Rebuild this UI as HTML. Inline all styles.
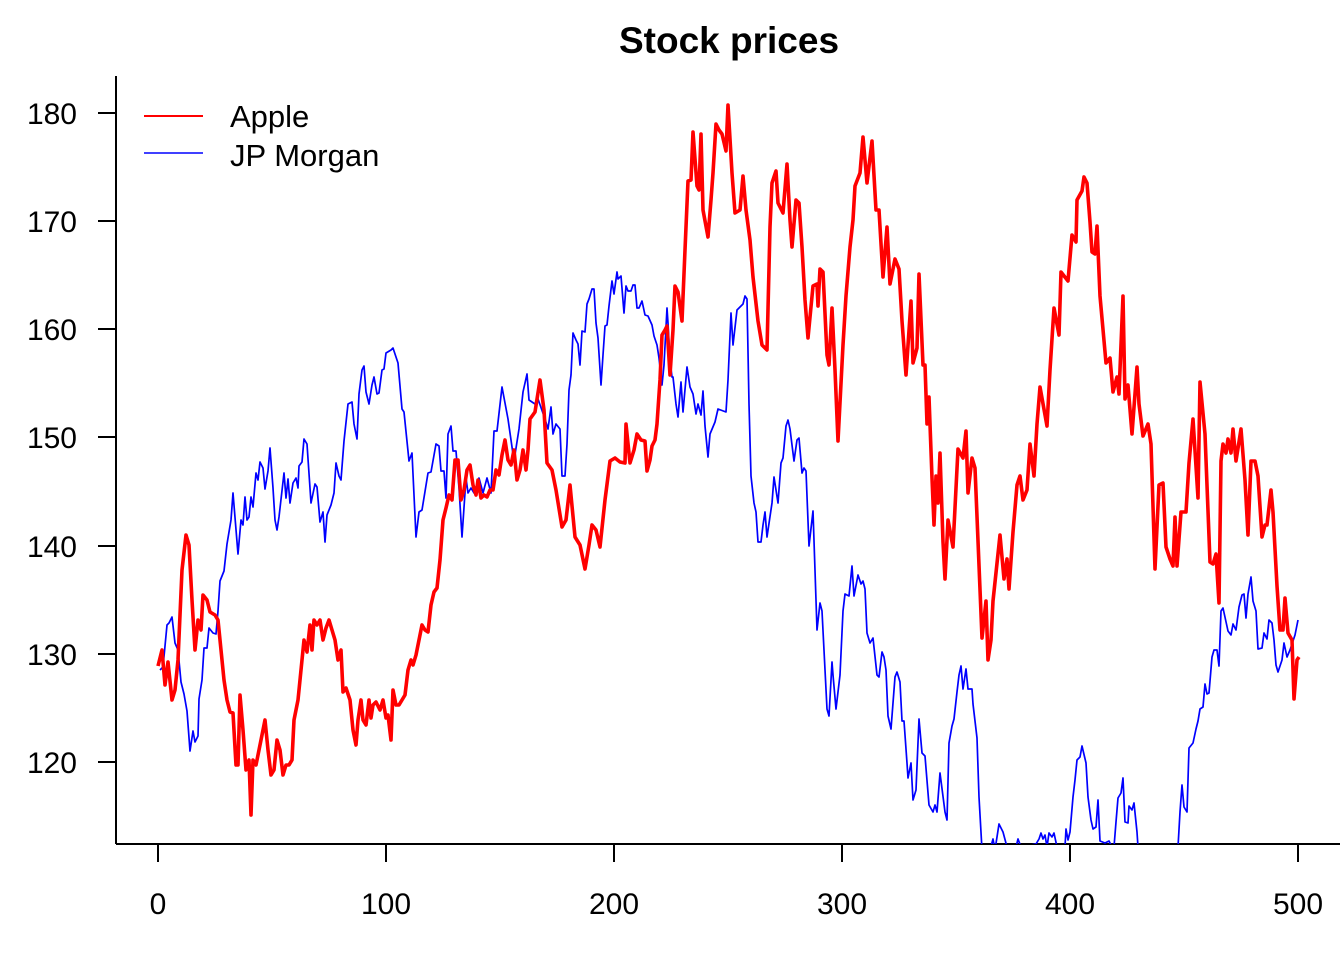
<!DOCTYPE html>
<html><head><meta charset="utf-8"><style>
html,body{margin:0;padding:0;background:#fff;}
svg{display:block;font-family:"Liberation Sans",Arial,sans-serif;}
</style></head><body>
<svg width="1344" height="960" viewBox="0 0 1344 960" xmlns="http://www.w3.org/2000/svg">
<defs><clipPath id="c"><rect x="116" y="76" width="1228" height="768"/></clipPath></defs>
<text x="729" y="53" text-anchor="middle" font-size="37" font-weight="bold">Stock prices</text>
<g stroke="#000" stroke-width="2" fill="none">
<line x1="116" y1="76" x2="116" y2="844"/>
<line x1="116" y1="844" x2="1340" y2="844"/>
<line x1="116" y1="113" x2="98" y2="113"/><line x1="116" y1="221" x2="98" y2="221"/><line x1="116" y1="329" x2="98" y2="329"/><line x1="116" y1="437" x2="98" y2="437"/><line x1="116" y1="546" x2="98" y2="546"/><line x1="116" y1="654" x2="98" y2="654"/><line x1="116" y1="762" x2="98" y2="762"/>
<line x1="158" y1="844" x2="158" y2="862"/><line x1="386" y1="844" x2="386" y2="862"/><line x1="614" y1="844" x2="614" y2="862"/><line x1="842" y1="844" x2="842" y2="862"/><line x1="1070" y1="844" x2="1070" y2="862"/><line x1="1298" y1="844" x2="1298" y2="862"/>
</g>
<g font-size="30" text-anchor="end">
<text x="77" y="124">180</text><text x="77" y="232">170</text><text x="77" y="340">160</text><text x="77" y="448">150</text><text x="77" y="557">140</text><text x="77" y="665">130</text><text x="77" y="773">120</text>
</g>
<g font-size="30" text-anchor="middle">
<text x="158" y="914">0</text><text x="386" y="914">100</text><text x="614" y="914">200</text><text x="842" y="914">300</text><text x="1070" y="914">400</text><text x="1298" y="914">500</text>
</g>
<g clip-path="url(#c)" fill="none" stroke-linejoin="round">
<polyline stroke="#0000ff" stroke-width="1.7" points="160,670 163,667 167,625 169,623 172,617 175,643 178,650 181,682 184,694 187,711 190,751 193,731 195,742 198,736 199,699 202,680 204,648 207,648 209,628 213,633 216,634 218,611 220,581 224,571 227,544 231,520 233,493 238,554 241,520 243,525 245,497 247,520 249,517 251,497 253,507 256,473 258,480 260,462 263,468 265,489 268,471 270,448 273,488 275,520 277,530 279,517 284,473 286,498 288,479 290,503 293,483 296,478 298,488 299,466 302,462 304,439 307,444 311,503 315,484 317,487 320,522 323,512 325,542 327,515 331,505 334,493 336,463 339,476 341,480 344,441 348,404 352,402 354,424 357,439 359,394 362,370 364,366 366,392 369,404 372,385 374,377 377,394 379,393 382,370 384,369 386,353 391,350 393,348 398,363 402,409 404,412 409,461 412,453 416,537 419,512 422,510 428,473 431,472 436,444 439,446 441,471 444,471 446,498 448,434 451,426 453,451 456,451 459,488 462,537 466,478 468,493 471,488 474,493 479,478 483,493 487,478 491,493 494,431 497,431 502,387 508,419 514,461 519,429 523,392 527,374 529,400 535,404 538,399 545,419 548,429 551,407 553,434 556,424 560,429 562,476 565,476 567,444 569,390 571,375 573,333 576,340 578,344 580,365 582,331 585,332 587,304 589,299 592,289 594,289 596,323 598,338 601,385 603,355 605,326 607,325 609,306 612,281 614,294 617,272 618,279 621,276 624,313 626,286 628,291 631,291 633,285 635,285 637,308 639,308 642,301 645,315 648,316 652,325 654,336 657,345 659,358 662,385 664,365 667,308 668,323 670,360 672,377 673,377 676,404 678,417 681,382 683,412 687,367 690,387 693,394 696,414 698,404 701,415 703,391 705,426 708,457 710,434 715,422 718,409 726,412 728,380 731,313 733,345 737,310 740,307 743,304 745,296 747,299 749,404 751,476 754,503 756,512 758,542 761,542 763,525 765,512 767,537 772,503 774,477 778,503 781,463 783,458 786,426 788,420 790,429 794,461 797,440 799,438 802,473 804,468 806,471 809,546 813,511 817,630 820,603 822,611 827,709 829,716 832,662 833,675 836,709 840,675 843,611 845,594 849,596 852,566 854,596 858,575 861,584 863,581 865,589 867,633 870,643 873,638 877,675 879,677 882,652 884,657 886,670 888,716 891,729 895,677 897,672 900,682 902,721 904,721 907,763 908,778 911,763 913,800 916,790 919,719 922,753 925,756 929,805 933,812 935,805 937,812 940,773 945,812 947,820 949,743 952,726 954,719 957,692 959,675 961,666 963,689 966,669 968,689 972,689 973,704 977,738 979,797 982,850 990,850 993,839 995,850 999,824 1003,832 1007,847 1016,847 1018,839 1021,847 1036,844 1039,839 1041,833 1043,839 1045,835 1047,847 1049,833 1052,837 1054,833 1057,847 1065,847 1066,829 1068,840 1070,832 1073,797 1075,780 1077,760 1080,757 1082,746 1086,763 1088,797 1091,820 1093,829 1096,827 1098,800 1100,841 1105,843 1109,841 1112,847 1114,847 1116,822 1118,798 1121,793 1123,778 1125,822 1128,823 1129,806 1132,810 1134,803 1137,832 1138,847 1178,847 1180,812 1182,785 1184,807 1187,812 1189,748 1193,743 1196,729 1198,721 1200,709 1203,707 1205,684 1207,694 1209,693 1212,657 1214,650 1217,650 1219,666 1221,611 1223,608 1228,631 1231,635 1233,624 1236,630 1239,607 1242,595 1244,594 1246,618 1248,594 1251,577 1253,601 1256,611 1258,649 1262,648 1264,633 1267,639 1269,620 1272,623 1274,640 1276,665 1278,672 1282,660 1284,643 1287,657 1290,650 1295,635 1298,620"/>
<polyline stroke="#ff0000" stroke-width="3.6" points="158,666 162,650 165,685 168,662 172,700 175,690 178,660 182,570 186,535 189,545 192,600 195,650 198,620 201,630 203,595 207,600 210,612 215,615 218,620 221,650 224,680 227,700 230,712 233,713 236,765 238,765 240,695 243,730 246,770 249,760 251,815 253,760 256,765 259,750 262,735 265,720 268,750 271,775 274,770 277,740 280,750 283,775 286,765 289,765 292,760 294,720 298,700 301,670 304,640 307,652 310,625 312,650 314,620 317,625 320,620 323,640 326,628 329,620 332,630 335,640 338,660 341,650 343,692 346,688 350,700 353,730 356,745 358,720 361,700 363,720 366,725 369,700 371,718 373,705 376,702 380,710 383,700 386,718 388,715 391,740 393,690 396,705 399,705 402,700 405,695 408,670 411,660 413,665 416,655 419,640 422,625 425,630 428,632 431,605 434,592 437,588 440,560 443,520 446,508 449,495 452,500 455,460 458,460 461,500 464,490 467,470 470,465 473,485 476,495 478,480 481,498 484,495 487,497 490,490 493,490 496,470 499,475 502,455 505,440 508,460 511,465 514,450 517,480 520,470 523,450 526,470 528,450 530,419 535,412 540,380 544,410 547,463 552,470 556,490 562,527 566,520 570,485 575,537 580,545 585,569 589,545 592,525 596,530 600,547 605,500 610,461 615,458 620,462 625,463 626,424 630,463 634,450 637,434 641,440 645,441 647,471 650,460 652,446 655,440 657,424 660,380 662,335 665,330 667,326 670,375 673,330 675,286 678,292 682,321 685,250 688,181 691,180 693,132 697,186 699,190 701,134 703,210 708,237 711,200 713,173 716,124 719,130 722,134 726,151 728,105 732,173 735,213 740,210 743,176 746,210 750,240 753,277 758,321 762,345 767,350 770,227 772,183 776,171 778,203 783,213 787,164 790,220 792,247 796,200 799,203 802,247 805,300 808,338 813,286 817,284 818,306 820,269 823,272 827,355 829,365 832,308 835,370 838,441 843,345 846,296 850,247 853,220 855,186 860,173 863,137 867,183 872,141 876,210 879,210 883,277 887,227 890,284 895,259 899,269 902,321 906,375 911,301 913,363 917,348 919,274 923,365 925,365 927,424 929,397 932,478 934,525 936,476 938,503 940,453 943,542 945,579 948,520 953,547 958,449 963,458 966,431 968,493 972,458 975,468 982,638 986,601 988,660 991,640 993,601 1000,535 1004,579 1007,559 1009,589 1013,532 1017,485 1020,476 1023,500 1027,490 1030,444 1034,476 1037,424 1040,387 1047,426 1050,370 1054,308 1059,335 1061,272 1068,281 1072,235 1076,242 1077,200 1082,191 1084,177 1087,183 1090,222 1092,252 1095,254 1097,226 1100,296 1106,363 1110,358 1113,392 1117,377 1119,394 1123,296 1125,399 1128,385 1132,434 1137,367 1139,404 1143,436 1148,424 1151,444 1155,569 1159,485 1163,483 1166,547 1170,559 1173,566 1175,517 1177,566 1181,512 1186,512 1189,463 1193,419 1198,498 1200,382 1205,434 1210,562 1213,564 1216,554 1219,603 1221,461 1223,444 1226,453 1228,439 1231,453 1233,429 1236,461 1241,429 1245,480 1248,535 1251,461 1255,461 1258,476 1262,537 1265,525 1267,525 1271,490 1273,512 1277,586 1280,630 1283,630 1285,598 1288,633 1292,640 1294,699 1297,660 1299,657"/>
</g>
<line x1="144" y1="116" x2="203" y2="116" stroke="#ff0000" stroke-width="2"/>
<line x1="144" y1="153" x2="203" y2="153" stroke="#0000ff" stroke-width="1.6"/>
<text x="230" y="127" font-size="31">Apple</text>
<text x="230" y="166" font-size="31">JP Morgan</text>
</svg>
</body></html>
